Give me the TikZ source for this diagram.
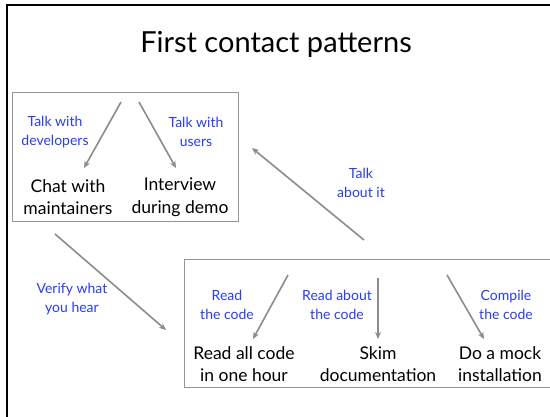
\documentclass[tikz,border=0pt]{standalone}
\usepackage{fontspec}
\setmainfont{Lato}
\usetikzlibrary{arrows.meta}
\definecolor{lblblue}{RGB}{40,60,250}
\definecolor{arrgray}{RGB}{140,140,140}
\definecolor{boxgray}{RGB}{150,150,150}
\tikzset{
  flow/.style={draw=arrgray, line width=1.6pt, -{Stealth[length=7pt,width=6pt]}},
  groupbox/.style={draw=boxgray, line width=1pt},
  lbl/.style={text=lblblue, font=\fontsize{14}{19}\selectfont, align=center, inner sep=0pt},
  item/.style={text=black, font=\fontsize{17.5}{22.5}\selectfont, align=center, inner sep=0pt},
}
\begin{document}
\begin{tikzpicture}[x=1pt,y=-1pt]
\useasboundingbox (0,0) rectangle (550,417);
\fill[white] (0,0) rectangle (550,417);
% outer frame (top and left edges)
\draw[black, line width=2pt] (6.5,417) -- (6.5,5.5) -- (550,5.5);

% title
\node[font=\fontsize{29}{33}\selectfont, inner sep=0pt] (title) at (276,44) {First contact patterns};

% group of talking patterns
\draw[groupbox] (12,93) rectangle (238,222);
\node[lbl] (devlbl) at (55,132) {Talk with\\developers};
\node[lbl] (usrlbl) at (196,132) {Talk with\\users};
\node[item] (chat) at (68,197) {Chat with\\maintainers};
\node[item] (interview) at (180,197) {Interview\\during demo};
\coordinate (talksrcA) at (121,102);
\coordinate (talksrcB) at (139,102);
\coordinate (chattop) at (84,168);
\coordinate (intertop) at (176,168);
\draw[flow] (talksrcA) -- (chattop);
\draw[flow] (talksrcB) -- (intertop);

% group of code patterns
\draw[groupbox] (550,260) -- (184,260) -- (184,388) -- (550,388);
\node[lbl] (readlbl) at (227,305) {Read\\the code};
\node[lbl] (aboutlbl) at (337,305) {Read about\\the code};
\node[lbl] (compilelbl) at (506,305) {Compile\\the code};
\node[item] (readall) at (244,364) {Read all code\\in one hour};
\node[item] (skim) at (378,364) {Skim\\documentation};
\node[item] (mock) at (500,364) {Do a mock\\installation};
\coordinate (codesrcA) at (288,275);
\coordinate (codesrcB) at (378,278);
\coordinate (codesrcC) at (447,275);
\coordinate (readtop) at (253,339);
\coordinate (skimtop) at (378,339);
\coordinate (mocktop) at (484,339);
\draw[flow] (codesrcA) -- (readtop);
\draw[flow] (codesrcB) -- (skimtop);
\draw[flow] (codesrcC) -- (mocktop);

% links between the two groups
\coordinate (talkfrom) at (364,240);
\coordinate (talkto) at (252,148);
\coordinate (verifyfrom) at (55,234);
\coordinate (verifyto) at (166,330);
\draw[flow] (talkfrom) -- (talkto);
\draw[flow] (verifyfrom) -- (verifyto);
\node[lbl] (talklbl) at (361,183) {Talk\\about it};
\node[lbl] (verifylbl) at (72,299) {Verify what\\you hear};
\end{tikzpicture}
\end{document}
